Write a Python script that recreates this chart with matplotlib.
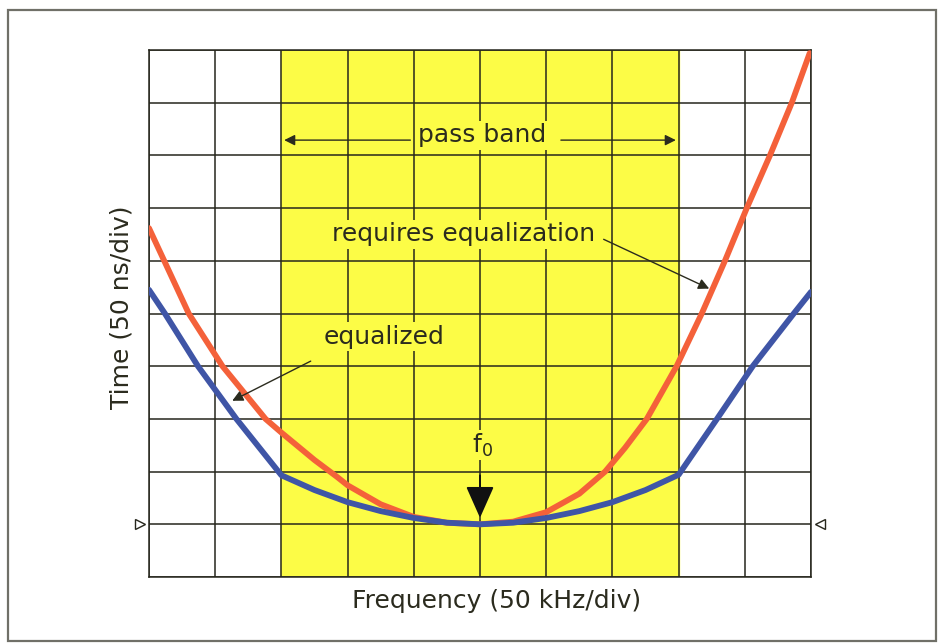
import matplotlib
matplotlib.use('Agg')
import matplotlib.pyplot as plt
from matplotlib.patches import Rectangle

# Curve readings (x in divisions of 50 kHz, y in divisions of 50 ns)
red_freq = [0, 0.23, 0.6, 1.11, 1.76, 2, 2.5, 2.84, 3, 3.5, 4, 4.5, 5, 5.5,
            6, 6.5, 6.89, 7.19, 7.52, 7.97, 8.35, 8.7, 9.03, 9.38, 9.71, 9.98]
red_time = [6.62, 6.0, 5.0, 4.0, 3.0, 2.74, 2.22, 1.9, 1.74, 1.38, 1.14, 1.03,
            1.0, 1.05, 1.23, 1.58, 2.0, 2.45, 3.0, 4.0, 5.0, 6.0, 7.0, 8.0,
            9.0, 9.94]

blue_freq = [0, 0.24, 0.74, 1.32, 2, 2.5, 3, 3.5, 4, 4.5, 5, 5.5, 6, 6.5,
             7, 7.5, 8, 8.58, 9.12, 9.74, 10]
blue_time = [5.45, 5.0, 4.0, 3.0, 1.93, 1.65, 1.42, 1.25, 1.12, 1.03, 1.0,
             1.03, 1.12, 1.25, 1.42, 1.65, 1.94, 3.0, 4.0, 5.0, 5.41]

pass_band = [2, 8]
f0 = 5
ref_level = 1

text_color = '#2b2b1e'
grid_color = '#26261c'
yellow = '#fcfc46'

fig = plt.figure(figsize=(9.42, 6.43), dpi=100)
ax = fig.add_axes([149 / 942, 66 / 643, 662 / 942, 527 / 643])

# Pass band shading
ax.axvspan(pass_band[0], pass_band[1], color=yellow, zorder=0)

ax.set_xlim(0, 10)
ax.set_ylim(0, 10)
ax.set_xticks(range(0, 11))
ax.set_yticks(range(0, 11))
ax.tick_params(length=0, labelbottom=False, labelleft=False)
ax.grid(True, color=grid_color, linewidth=1.1, zorder=1)
ax.set_axisbelow(True)
for s in ax.spines.values():
    s.set_color(grid_color)
    s.set_linewidth(1.1)

ax.plot(red_freq, red_time, color='#f4613a', linewidth=4.2,
        solid_capstyle='round', solid_joinstyle='round', zorder=3)
ax.plot(blue_freq, blue_time, color='#3f55a6', linewidth=4.2,
        solid_capstyle='round', solid_joinstyle='round', zorder=4)

# Reference level markers on both edges
ax.plot([-0.13], [ref_level], marker='>', markersize=7, mfc='white',
        mec=grid_color, mew=1, clip_on=False, zorder=5)
ax.plot([10.13], [ref_level], marker='<', markersize=7, mfc='white',
        mec=grid_color, mew=1, clip_on=False, zorder=5)

box = dict(facecolor=yellow, edgecolor='none', pad=2.0)
font = 18

# pass band label with arrows to both edges
ax.text(5.03, 8.38, 'pass band', ha='center', va='center', fontsize=font,
        color=text_color, bbox=box, zorder=6)
arrow = dict(arrowstyle='-|>', color=text_color, lw=1.0, mutation_scale=16)
ax.annotate('', xy=(pass_band[0], 8.29), xytext=(3.99, 8.29),
            arrowprops=arrow, zorder=5)
ax.annotate('', xy=(pass_band[1], 8.29), xytext=(6.18, 8.29),
            arrowprops=arrow, zorder=5)

ax.text(4.75, 6.5, 'requires equalization', ha='center', va='center',
        fontsize=font, color=text_color, bbox=box, zorder=6)
ax.annotate('', xy=(8.5, 5.45), xytext=(6.83, 6.43),
            arrowprops=arrow, zorder=5)

ax.text(3.55, 4.56, 'equalized', ha='center', va='center', fontsize=font,
        color=text_color, bbox=box, zorder=6)
ax.annotate('', xy=(1.22, 3.32), xytext=(2.48, 4.12),
            arrowprops=arrow, zorder=5)

# f0 marker
ax.text(f0 + 0.04, 2.5, r'f$_0$', ha='center', va='center', fontsize=font,
        color=text_color, bbox=dict(facecolor=yellow, edgecolor='none', pad=1),
        zorder=6)
ax.annotate('', xy=(f0, 1.07), xytext=(f0, 1.98),
            arrowprops=dict(arrowstyle='-|>,head_length=0.9,head_width=0.4',
                            color='#111111', lw=1.4, mutation_scale=22),
            zorder=6)

fig.text(497 / 942, 1 - 601 / 643, 'Frequency (50 kHz/div)', ha='center',
         va='center', fontsize=font, color=text_color)
fig.text(122 / 942, 1 - 307 / 643, 'Time (50 ns/div)', ha='center',
         va='center', rotation=90, fontsize=font, color=text_color)

# outer frame
fig.patches.append(Rectangle((8 / 942, 2 / 643), 928 / 942, 631 / 643,
                             transform=fig.transFigure, fill=False,
                             edgecolor='#707068', linewidth=1.6))

fig.savefig('out.png', dpi=100)
plt.close(fig)
